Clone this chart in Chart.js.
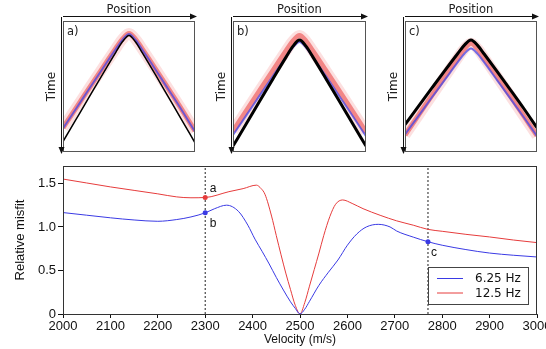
<!DOCTYPE html>
<html lang="en">
<head>
    <meta charset="UTF-8">
    <title>Relative misfit vs velocity</title>
    <script src="https://cdn.jsdelivr.net/npm/chart.js@4.4.1/dist/chart.umd.min.js"></script>
    <style>
        body {
            margin: 0;
            background: #fff;
        }
        .wrap {
            position: relative;
            width: 546px;
            height: 349px;
            overflow: hidden;
        }
        canvas {
            position: absolute;
            top: 0;
        }
    </style>
</head>
<body>
    <div class="wrap">
        <canvas id="misfit" width="546" height="349" style="left:0"></canvas>
        <canvas id="panelA" width="165" height="160" style="left:40px"></canvas>
        <canvas id="panelB" width="165" height="160" style="left:210px"></canvas>
        <canvas id="panelC" width="164" height="160" style="left:382px"></canvas>
    </div>

    <script>
        // misfit curves
        const blueVelocity = [2000, 2050, 2100, 2150, 2200, 2240, 2270, 2300, 2320, 2345, 2370, 2390, 2405, 2420, 2435, 2450, 2465, 2480, 2490, 2500, 2510, 2520, 2540, 2560, 2580, 2600, 2620, 2640, 2665, 2690, 2704, 2739, 2770, 2800, 2850, 2900, 2950, 3000];
        const blueMisfit = [1.165, 1.135, 1.105, 1.08, 1.065, 1.085, 1.115, 1.162, 1.21, 1.25, 1.18, 1.02, 0.86, 0.72, 0.575, 0.42, 0.275, 0.14, 0.065, 0.0, 0.055, 0.145, 0.33, 0.48, 0.62, 0.79, 0.92, 1.0, 1.03, 1.0, 0.953, 0.883, 0.83, 0.79, 0.74, 0.70, 0.675, 0.655];
        const redVelocity = [2000, 2050, 2100, 2150, 2200, 2240, 2270, 2300, 2350, 2380, 2408, 2418, 2426, 2440, 2450, 2460, 2470, 2480, 2490, 2500, 2510, 2520, 2530, 2540, 2550, 2563, 2575, 2590, 2610, 2633, 2669, 2704, 2739, 2770, 2800, 2850, 2900, 2950, 3000];
        const redMisfit = [1.55, 1.505, 1.46, 1.42, 1.38, 1.345, 1.335, 1.338, 1.405, 1.44, 1.48, 1.44, 1.376, 1.125, 0.90, 0.68, 0.47, 0.28, 0.10, 0.0, 0.13, 0.32, 0.51, 0.70, 0.90, 1.12, 1.26, 1.31, 1.27, 1.21, 1.134, 1.07, 1.02, 0.972, 0.95, 0.915, 0.885, 0.85, 0.82];

        const seriesLabels = ['6.25 Hz', '12.5 Hz'];
        const markerLabels = ['a', 'b', 'c'];
        const markerVelocity = [2300, 2300, 2770];
        const markerMisfit = [1.338, 1.162, 0.83];
        const markerSeries = [1, 0, 0];   // 0 = blue, 1 = red
        const guideVelocity = [2300, 2770];

        const velocityTicks = [2000, 2100, 2200, 2300, 2400, 2500, 2600, 2700, 2800, 2900, 3000];
        const misfitTicks = [0, 0.5, 1.0, 1.5];
        const velMin = 2000, velMax = 3000, misfitMin = 0, misfitMax = 1.7;

        // synthetic gathers, time normalised 0 (top) .. 1 (bottom)
        const position = [0, 0.1, 0.2, 0.3, 0.4, 0.45, 0.5, 0.55, 0.6, 0.7, 0.8, 0.9, 1];
        const obsA = [0.92, 0.749, 0.578, 0.407, 0.239, 0.159, 0.11, 0.16, 0.241, 0.41, 0.583, 0.756, 0.93];
        const lowA = [0.82, 0.668, 0.515, 0.364, 0.215, 0.144, 0.10, 0.145, 0.218, 0.37, 0.525, 0.681, 0.845];
        const highA = [0.815, 0.663, 0.51, 0.359, 0.21, 0.139, 0.095, 0.14, 0.213, 0.365, 0.52, 0.676, 0.84];
        const obsB = [0.955, 0.784, 0.612, 0.442, 0.274, 0.194, 0.145, 0.194, 0.274, 0.442, 0.612, 0.784, 0.955];
        const lowB = [0.87, 0.72, 0.57, 0.42, 0.273, 0.203, 0.16, 0.204, 0.275, 0.423, 0.574, 0.725, 0.88];
        const highB = [0.84, 0.686, 0.531, 0.378, 0.226, 0.154, 0.11, 0.155, 0.228, 0.381, 0.535, 0.691, 0.85];
        const obsC = [0.79, 0.654, 0.517, 0.381, 0.248, 0.184, 0.145, 0.186, 0.252, 0.388, 0.527, 0.668, 0.815];
        const lowC = [0.866, 0.728, 0.588, 0.451, 0.314, 0.25, 0.21, 0.251, 0.316, 0.455, 0.594, 0.735, 0.88];
        const highC = [0.87, 0.722, 0.573, 0.427, 0.281, 0.212, 0.17, 0.212, 0.282, 0.428, 0.575, 0.724, 0.875];

        const BLUE = '#3a3ae4';
        const RED = '#e63c3c';
        const SERIES_COLORS = [BLUE, RED];
        const AXIS_FONT = 'Liberation Sans, Arial, sans-serif';
        const MPL_FONT = 'DejaVu Sans, sans-serif';

        const toXY = (xs, ys) => xs.map((x, i) => ({ x: x, y: ys[i] }));

        // frame, legend and a/b/c labels on the misfit plot
        const misfitDecor = {
            id: 'misfitDecor',
            afterDraw(chart) {
                const { ctx, chartArea: area, scales } = chart;
                ctx.save();
                ctx.strokeStyle = '#333';
                ctx.lineWidth = 1;
                ctx.strokeRect(area.left + 0.5, area.top + 0.5, area.right - area.left - 1, area.bottom - area.top);

                ctx.fillStyle = '#111';
                ctx.font = '12px ' + AXIS_FONT;
                ctx.textAlign = 'center';
                ctx.textBaseline = 'middle';
                const offsets = [[8, -9], [8, 11], [6, 11]];
                markerLabels.forEach((txt, i) => {
                    const px = scales.x.getPixelForValue(markerVelocity[i]);
                    const py = scales.y.getPixelForValue(markerMisfit[i]);
                    ctx.fillText(txt, px + offsets[i][0], py + offsets[i][1]);
                });

                // legend box
                const bw = 100, bh = 37;
                const bx = area.right - 9 - bw, by = area.bottom - 10 - bh;
                ctx.fillStyle = '#fff';
                ctx.fillRect(bx, by, bw, bh);
                ctx.strokeStyle = '#444';
                ctx.strokeRect(bx + 0.5, by + 0.5, bw, bh);
                ctx.font = '12px ' + MPL_FONT;
                ctx.textAlign = 'left';
                seriesLabels.forEach((txt, i) => {
                    const ly = by + 11 + i * 14.5;
                    ctx.strokeStyle = SERIES_COLORS[i];
                    ctx.beginPath();
                    ctx.moveTo(bx + 9, ly + 0.5);
                    ctx.lineTo(bx + 35, ly + 0.5);
                    ctx.stroke();
                    ctx.fillStyle = '#111';
                    ctx.fillText(txt, bx + 47, ly + 1);
                });
                ctx.restore();
            }
        };

        const misfitDatasets = [
            {
                data: toXY(markerVelocity, markerMisfit),
                showLine: false,
                pointRadius: 2.5,
                pointBorderWidth: 0,
                pointBackgroundColor: markerSeries.map(s => SERIES_COLORS[s])
            },
            {
                label: seriesLabels[0],
                data: toXY(blueVelocity, blueMisfit),
                borderColor: BLUE,
                borderWidth: 1,
                pointRadius: 0,
                cubicInterpolationMode: 'monotone'
            },
            {
                label: seriesLabels[1],
                data: toXY(redVelocity, redMisfit),
                borderColor: RED,
                borderWidth: 1,
                pointRadius: 0,
                cubicInterpolationMode: 'monotone'
            }
        ];
        guideVelocity.forEach(v => {
            misfitDatasets.push({
                data: [{ x: v, y: misfitMin }, { x: v, y: misfitMax }],
                borderColor: '#222',
                borderWidth: 1,
                borderDash: [2, 2],
                pointRadius: 0
            });
        });

        new Chart(document.getElementById('misfit'), {
            type: 'line',
            data: { datasets: misfitDatasets },
            options: {
                responsive: false,
                animation: false,
                devicePixelRatio: 1,
                layout: { autoPadding: false, padding: { left: 0, right: 9, top: 166, bottom: 0 } },
                plugins: { legend: { display: false }, tooltip: { enabled: false } },
                scales: {
                    x: {
                        type: 'linear',
                        min: velMin,
                        max: velMax,
                        afterFit: s => { s.height = 35; s.paddingLeft = 0; s.paddingRight = 0; },
                        afterBuildTicks: s => { s.ticks = velocityTicks.map(v => ({ value: v })); },
                        ticks: { color: '#111', font: { family: AXIS_FONT, size: 13 }, padding: 1, maxRotation: 0, autoSkip: false, callback: v => String(v) },
                        grid: { drawOnChartArea: false, color: '#111', tickLength: 4 },
                        border: { color: '#333' },
                        title: { display: true, text: 'Velocity (m/s)', color: '#111', font: { family: AXIS_FONT, size: 12 }, padding: { top: 0, bottom: 2 } }
                    },
                    y: {
                        min: misfitMin,
                        max: misfitMax,
                        afterFit: s => { s.width = 63; s.paddingTop = 0; s.paddingBottom = 0; },
                        afterBuildTicks: s => { s.ticks = misfitTicks.map(v => ({ value: v })); },
                        ticks: {
                            color: '#111',
                            font: { family: AXIS_FONT, size: 13 },
                            padding: 2,
                            callback: v => (v === 0 ? '0' : v.toFixed(1))
                        },
                        grid: { drawOnChartArea: false, color: '#111', tickLength: 5 },
                        border: { color: '#333' },
                        title: { display: true, text: 'Relative misfit', color: '#111', font: { family: AXIS_FONT, size: 13 }, padding: { top: 13, bottom: 0 } }
                    }
                }
            },
            plugins: [misfitDecor]
        });

        // frame, arrows and axis words on the small gathers
        const gatherDecor = {
            id: 'gatherDecor',
            afterDraw(chart, args, opts) {
                const { ctx, chartArea: a } = chart;
                ctx.save();
                ctx.strokeStyle = '#555';
                ctx.lineWidth = 1;
                ctx.strokeRect(a.left + 0.5, a.top + 0.5, a.right - a.left - 1, a.bottom - a.top - 1);

                ctx.strokeStyle = '#111';
                ctx.fillStyle = '#111';
                // Position arrow
                const ay = a.top - 4.5;
                ctx.beginPath();
                ctx.moveTo(a.left, ay);
                ctx.lineTo(a.right - 3, ay);
                ctx.stroke();
                ctx.beginPath();
                ctx.moveTo(a.right + 2, ay);
                ctx.lineTo(a.right - 5, ay - 3);
                ctx.lineTo(a.right - 5, ay + 3);
                ctx.closePath();
                ctx.fill();
                // Time arrow
                const ax = a.left - 1.5;
                ctx.beginPath();
                ctx.moveTo(ax, a.top - 4);
                ctx.lineTo(ax, a.bottom - 3);
                ctx.stroke();
                ctx.beginPath();
                ctx.moveTo(ax, a.bottom + 2);
                ctx.lineTo(ax - 3, a.bottom - 5);
                ctx.lineTo(ax + 3, a.bottom - 5);
                ctx.closePath();
                ctx.fill();

                ctx.fillStyle = '#222';
                ctx.textAlign = 'center';
                ctx.textBaseline = 'middle';
                ctx.font = '11.5px ' + MPL_FONT;
                ctx.fillText('Position', (a.left + a.right) / 2, a.top - 11);
                ctx.save();
                ctx.translate(a.left - 11, (a.top + a.bottom) / 2);
                ctx.rotate(-Math.PI / 2);
                ctx.font = '12px ' + MPL_FONT;
                ctx.fillText('Time', 0, 0);
                ctx.restore();

                ctx.textAlign = 'left';
                ctx.font = '11.5px ' + MPL_FONT;
                ctx.fillText(opts.letter, a.left + 4, a.top + 11);
                ctx.restore();
            }
        };

        function makeGather(id, letter, obs, low, high, obsWidth) {
            const curve = { pointRadius: 0, cubicInterpolationMode: 'monotone' };
            new Chart(document.getElementById(id), {
                type: 'line',
                data: {
                    datasets: [
                        Object.assign({ data: toXY(position, obs), borderColor: '#000', borderWidth: obsWidth }, curve),
                        Object.assign({ data: toXY(position, low), borderColor: 'rgba(70,70,230,0.75)', borderWidth: 2 }, curve),
                        Object.assign({ data: toXY(position, high), borderColor: 'rgba(235,60,60,0.55)', borderWidth: 5 }, curve),
                        Object.assign({ data: toXY(position, high), borderColor: 'rgba(240,100,100,0.2)', borderWidth: 11 }, curve)
                    ]
                },
                options: {
                    responsive: false,
                    animation: false,
                    devicePixelRatio: 1,
                    layout: { autoPadding: false, padding: { left: 23, right: id === 'panelA' ? 10 : 9, top: 21, bottom: 8 } },
                    plugins: { legend: { display: false }, tooltip: { enabled: false }, gatherDecor: { letter: letter } },
                    scales: {
                        x: { type: 'linear', display: false, min: 0, max: 1 },
                        y: { display: false, min: 0, max: 1, reverse: true }
                    }
                },
                plugins: [gatherDecor]
            });
        }

        makeGather('panelA', 'a)', obsA, lowA, highA, 1.5);
        makeGather('panelB', 'b)', obsB, lowB, highB, 3);
        makeGather('panelC', 'c)', obsC, lowC, highC, 3);
    </script>
</body>
</html>
